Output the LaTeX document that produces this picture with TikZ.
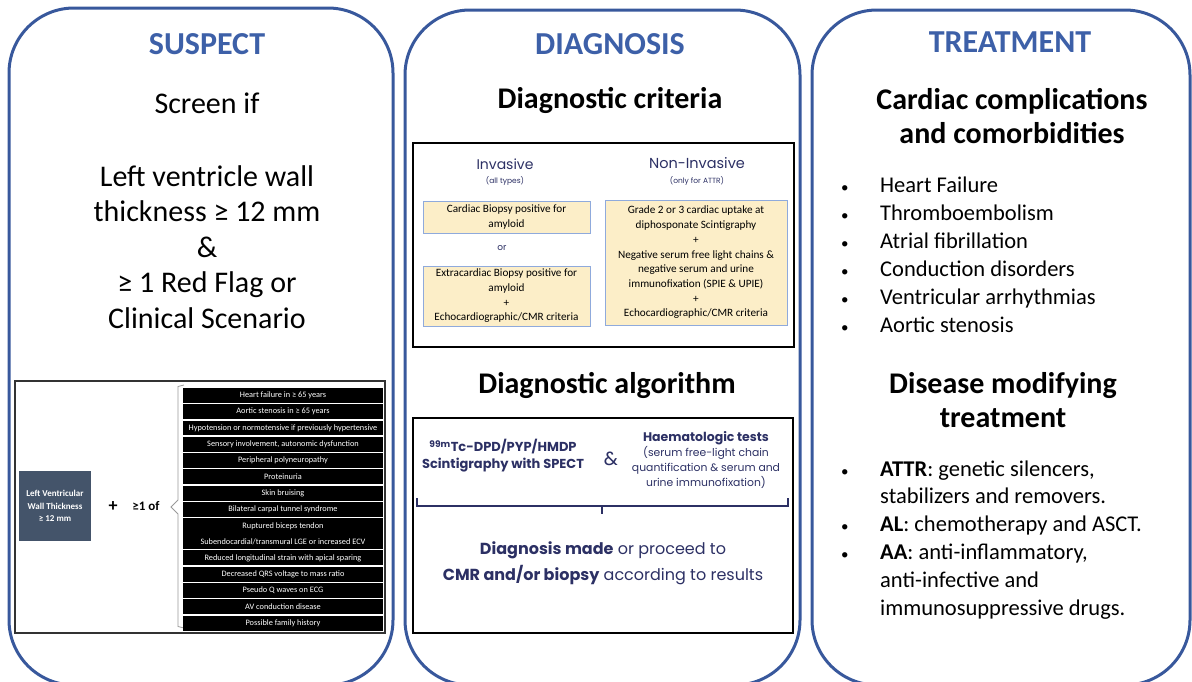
\documentclass[tikz,border=0pt]{standalone}
\usepackage{fontspec}
\setmainfont{Carlito}
\newfontfamily\navyfont{Poppins}
\usetikzlibrary{positioning}
\definecolor{panelblue}{RGB}{56,88,156}
\definecolor{headblue}{RGB}{61,96,168}
\definecolor{navy}{RGB}{44,48,100}
\definecolor{slate}{RGB}{68,84,106}
\definecolor{critfill}{RGB}{252,238,200}
\definecolor{critedge}{RGB}{143,170,220}

\begin{document}
\begin{tikzpicture}[x=1pt,y=-1pt,
				panel/.style={draw=panelblue,line width=3pt,rounded corners=65pt},
				head/.style={text=headblue,font=\fontsize{32}{38}\selectfont\bfseries},
				title/.style={align=center,font=\fontsize{30}{34}\selectfont\bfseries},
				bigtxt/.style={align=center,font=\fontsize{30}{35.5}\selectfont},
				frame/.style={draw=black!80,line width=1.5pt,inner sep=0pt},
				flag/.style={fill=black,text=white,minimum width=200pt,minimum height=14.9pt,inner sep=0pt,
					font=\fontsize{8.3}{15.9}\selectfont,align=center,node distance=1pt},
				critbox/.style={fill=critfill,draw=critedge,line width=0.8pt,inner sep=0pt,align=center,
					font=\fontsize{11.2}{14.7}\selectfont},
				navytxt/.style={text=navy,align=center,font=\navyfont},
				dot/.style={font=\fontsize{14}{14}\selectfont}]
				\clip (0,0) rectangle (1192,681);
				\draw[panel] (9,8) rectangle (393,685);
				\draw[panel] (405,10) rectangle (800,685);
				\draw[panel] (812,10) rectangle (1190,685);

				% suspect
				\node[head]   (suspect) at (207,44)  {SUSPECT};
				\node[bigtxt] (screen)  at (207,103) {Screen if};
				\node[bigtxt] (lvwt)    at (207,247) {Left ventricle wall\\thickness ≥ 12 mm\\\&\\≥ 1 Red Flag or\\Clinical Scenario};
				\node[frame,minimum width=370pt,minimum height=252pt] (flagbox) at (200,507) {};
				\node[fill=slate,text=white,minimum width=72pt,minimum height=70pt,inner sep=0pt,align=center,
					font=\fontsize{9}{12.5}\selectfont\bfseries] (lvbox) at (55,506) {Left Ventricular\\Wall Thickness\\≥ 12 mm};
				\node[font=\fontsize{18}{20}\selectfont\bfseries] (plus) at (113,507) {+};
				\node[font=\fontsize{13}{14}\selectfont\bfseries] (oneof) at (146,506) {≥1 of};
				\draw[black!40,line width=0.8pt] (184,385) -- (178,386.5) -- (178,500) -- (171,507) -- (178,514) -- (178,626.5) -- (184,628);
				\node[flag,anchor=north] (f1) at (283,387.7) {Heart failure in ≥ 65 years};
				\node[flag] (f2)  [below=of f1]  {Aortic stenosis in ≥ 65 years};
				\node[flag] (f3)  [below=of f2]  {Hypotension or normotensive if previously hypertensive};
				\node[flag] (f4)  [below=of f3]  {Sensory involvement, autonomic dysfunction};
				\node[flag] (f5)  [below=of f4]  {Peripheral polyneuropathy};
				\node[flag] (f6)  [below=of f5]  {Proteinuria};
				\node[flag] (f7)  [below=of f6]  {Skin bruising};
				\node[flag] (f8)  [below=of f7]  {Bilateral carpal tunnel syndrome};
				\node[flag,minimum height=30.7pt] (f9) [below=of f8] {Ruptured biceps tendon\\Subendocardial/transmural LGE or increased ECV};
				\node[flag] (f10) [below=of f9]  {Reduced longitudinal strain with apical sparing};
				\node[flag] (f11) [below=of f10] {Decreased QRS voltage to mass ratio};
				\node[flag] (f12) [below=of f11] {Pseudo Q waves on ECG};
				\node[flag] (f13) [below=of f12] {AV conduction disease};
				\node[flag] (f14) [below=of f13] {Possible family history};

				% diagnosis
				\node[head]  (diagnosis) at (610,44)  {DIAGNOSIS};
				\node[title] (critera)   at (610,100) {Diagnostic criteria};
				\node[frame,draw=black,minimum width=381pt,minimum height=204pt] (critframe) at (603.5,245) {};
				\node[navytxt,font=\navyfont\fontsize{14}{16}\selectfont] (inv)    at (505,164) {Invasive};
				\node[navytxt,font=\navyfont\fontsize{7.5}{8}\selectfont] (invsub) at (505,181) {(all types)};
				\node[navytxt,font=\navyfont\fontsize{14.5}{16}\selectfont] (noninv)    at (697,163) {Non-Invasive};
				\node[navytxt,font=\navyfont\fontsize{7.5}{8}\selectfont] (noninvsub) at (697,181) {(only for ATTR)};
				\node[critbox,minimum width=167pt,minimum height=32pt] (cardbx) at (506.5,217) {Cardiac Biopsy positive for\\amyloid};
				\node[navytxt,font=\navyfont\fontsize{9}{10}\selectfont] (or) at (502,248) {or};
				\node[critbox,minimum width=167pt,minimum height=60pt] (extrabx) at (506.5,296) {Extracardiac Biopsy positive for\\amyloid\\+\\Echocardiographic/CMR criteria};
				\node[critbox,minimum width=182pt,minimum height=125pt] (scintbx) at (696,262.5) {Grade 2 or 3 cardiac uptake at\\diphosponate Scintigraphy\\+\\Negative serum free light chains \&\\negative serum and urine\\immunofixation (SPIE \& UPIE)\\+\\Echocardiographic/CMR criteria};

				\node[title] (algo) at (607,385) {Diagnostic algorithm};
				\node[frame,draw=black,minimum width=380pt,minimum height=215pt] (algframe) at (603,525.5) {};
				\node[navytxt,font=\navyfont\fontsize{13}{17}\selectfont\bfseries] (scint) at (503,456)
					{\textsuperscript{99m}Tc-DPD/PYP/HMDP\\Scintigraphy with SPECT};
				\node[navytxt,font=\navyfont\fontsize{19}{22}\selectfont] (amp) at (611,459) {\&};
				\node[navytxt,font=\navyfont\fontsize{10.8}{15}\selectfont] (haema) at (706,460)
					{{\bfseries\fontsize{12.5}{15}\selectfont Haematologic tests}\\(serum free-light chain\\quantification \& serum and\\urine immunofixation)};
				\coordinate (brl) at (417,498);
				\coordinate (brr) at (788,498);
				\coordinate (brm) at (602,506);
				\draw[navy,line width=2pt] (brl) -- (brl |- brm) -- (brr |- brm) -- (brr);
				\draw[navy,line width=2pt] (brm) -- ++(0,8);
				\node[navytxt,font=\navyfont\fontsize{16}{26}\selectfont] (result) at (603,563)
					{\textbf{Diagnosis made} or proceed to\\\textbf{CMR and/or biopsy} according to results};

				% treatment
				\node[head]  (treatment) at (1010,42)  {TREATMENT};
				\node[title] (cardcompl) at (1012,116) {Cardiac complications\\and comorbidities};
				\node[anchor=west,inner sep=0pt,font=\fontsize{22.5}{28}\selectfont] (complist) at (841,257)
					{\begin{tabular}{@{}p{39pt}@{}l@{}}
					{\fontsize{15}{15}\selectfont •} & Heart Failure\\
					{\fontsize{15}{15}\selectfont •} & Thromboembolism\\
					{\fontsize{15}{15}\selectfont •} & Atrial fibrillation\\
					{\fontsize{15}{15}\selectfont •} & Conduction disorders\\
					{\fontsize{15}{15}\selectfont •} & Ventricular arrhythmias\\
					{\fontsize{15}{15}\selectfont •} & Aortic stenosis
					\end{tabular}};
				\node[title] (dmt) at (1003,400) {Disease modifying\\treatment};
				\node[anchor=west,inner sep=0pt,font=\fontsize{22.5}{27.8}\selectfont] (dmtlist) at (841,540)
					{\begin{tabular}{@{}p{39pt}@{}l@{}}
					{\fontsize{15}{15}\selectfont •} & \textbf{ATTR}: genetic silencers,\\
					  & stabilizers and removers.\\
					{\fontsize{15}{15}\selectfont •} & \textbf{AL}: chemotherapy and ASCT.\\
					{\fontsize{15}{15}\selectfont •} & \textbf{AA}: anti-inflammatory,\\
					  & anti-infective and\\
					  & immunosuppressive drugs.
					\end{tabular}};
			\end{tikzpicture}
\end{document}
